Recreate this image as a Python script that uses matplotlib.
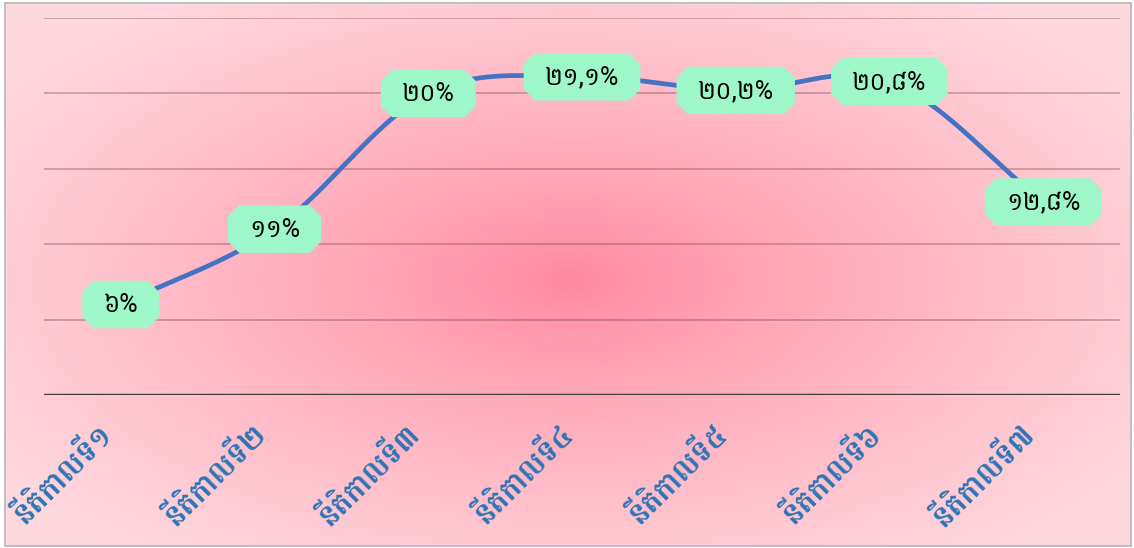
import numpy as np
import matplotlib
matplotlib.use('Agg')
import matplotlib.pyplot as plt
from matplotlib.path import Path
from matplotlib.patches import Rectangle
from matplotlib.transforms import ScaledTranslation

categories = ['នីតិកាលទី១', 'នីតិកាលទី២', 'នីតិកាលទី៣', 'នីតិកាលទី៤',
              'នីតិកាលទី៥', 'នីតិកាលទី៦', 'នីតិកាលទី៧']
values = [6, 11, 20, 21.1, 20.2, 20.8, 12.8]
value_labels = ['៦%', '១១%', '២០%', '២១,១%', '២០,២%', '២០,៨%', '១២,៨%']
y_ticks = [0, 5, 10, 15, 20, 25]

plt.rcParams['font.family'] = ['Battambang', 'DejaVu Sans']

W, H = 1134, 548
fig = plt.figure(figsize=(W / 100, H / 100), dpi=100)

# background: radial pink gradient inside a grey frame
bg = fig.add_axes([0, 0, 1, 1], zorder=-10)
bg.set_axis_off()
yy, xx = np.mgrid[0:H, 0:W]
r = np.sqrt(((xx - 570) / 600.0) ** 2 + ((yy - 280) / 300.0) ** 2)
t = np.clip(r / 1.15, 0, 1) ** 0.8
c_in = np.array([255, 135, 158]) / 255.0
c_out = np.array([255, 216, 222]) / 255.0
img = c_in[None, None, :] * (1 - t[..., None]) + c_out[None, None, :] * t[..., None]
bg.imshow(img, extent=[0, W, H, 0], aspect='auto')
bg.set_xlim(0, W)
bg.set_ylim(H, 0)
bg.add_patch(Rectangle((0, 0), W, 3, color='white'))
bg.add_patch(Rectangle((0, 0), 5, H, color='white'))
bg.add_patch(Rectangle((1131, 0), 3, H, color='white'))
bg.add_patch(Rectangle((0, 546), W, 2, color='white'))
bg.add_patch(Rectangle((5, 3), 1126, 543, fill=False, edgecolor='#bfbfbf', lw=1.5))

ax = fig.add_axes([44 / W, (H - 395) / H, (1120 - 44) / W, (395 - 18) / H])
ax.patch.set_alpha(0)
for s in ax.spines.values():
    s.set_visible(False)

x = np.arange(len(values))
ax.set_xlim(-0.5, len(values) - 0.5)
ax.set_ylim(y_ticks[0], y_ticks[-1])
ax.set_yticks(y_ticks)
ax.set_yticklabels([])
ax.tick_params(length=0)
for yt in y_ticks[1:]:
    ax.axhline(yt, color='#6b3a48', alpha=0.35, lw=1.3, zorder=1)
ax.axhline(0, color='#404040', lw=2.5, zorder=2)


# smoothed line like excel (catmull-rom between the points)
def smooth(px, py, n=40):
    P = np.column_stack([np.asarray(px, float), np.asarray(py, float)])
    P = np.vstack([2 * P[0] - P[1], P, 2 * P[-1] - P[-2]])
    out = []
    for i in range(1, len(P) - 2):
        p0, p1, p2, p3 = P[i - 1], P[i], P[i + 1], P[i + 2]
        tt = np.linspace(0, 1, n)[:, None]
        seg = 0.5 * ((2 * p1) + (-p0 + p2) * tt + (2 * p0 - 5 * p1 + 4 * p2 - p3) * tt ** 2
                     + (-p0 + 3 * p1 - 3 * p2 + p3) * tt ** 3)
        out.append(seg)
    out = np.vstack(out)
    return out[:, 0], out[:, 1]


sx, sy = smooth(x, values)
ax.plot(sx, sy, color='#4472c4', lw=3.4, solid_capstyle='round', zorder=3)


def chamfer_box(x0, y0, width, height, mutation_size):
    px = 0.85 * mutation_size
    py = 0.45 * mutation_size
    x0 -= px
    y0 -= py
    width += 2 * px
    height += 2 * py
    c = height * 0.24
    verts = [(x0 + c, y0), (x0 + width - c, y0), (x0 + width, y0 + c),
             (x0 + width, y0 + height - c), (x0 + width - c, y0 + height),
             (x0 + c, y0 + height), (x0, y0 + height - c), (x0, y0 + c), (x0 + c, y0)]
    return Path(verts, closed=True)


for xi, v, lab in zip(x, values, value_labels):
    ax.text(xi, v, lab, ha='center', va='center', fontsize=18, color='black', zorder=5,
            bbox=dict(boxstyle=chamfer_box, fc='#9ef7c9', ec='none'))

ax.set_xticks(x)
ax.set_xticklabels(categories, rotation=45, ha='right', va='top', rotation_mode='anchor',
                   fontsize=21.5, fontweight='bold', color='#2e75b6')
ax.tick_params(axis='x', pad=6)
shift = ScaledTranslation(-17 / 72, -11 / 72, fig.dpi_scale_trans)
for lbl in ax.get_xticklabels():
    lbl.set_transform(lbl.get_transform() + shift)

fig.savefig('out.png', dpi=100)
